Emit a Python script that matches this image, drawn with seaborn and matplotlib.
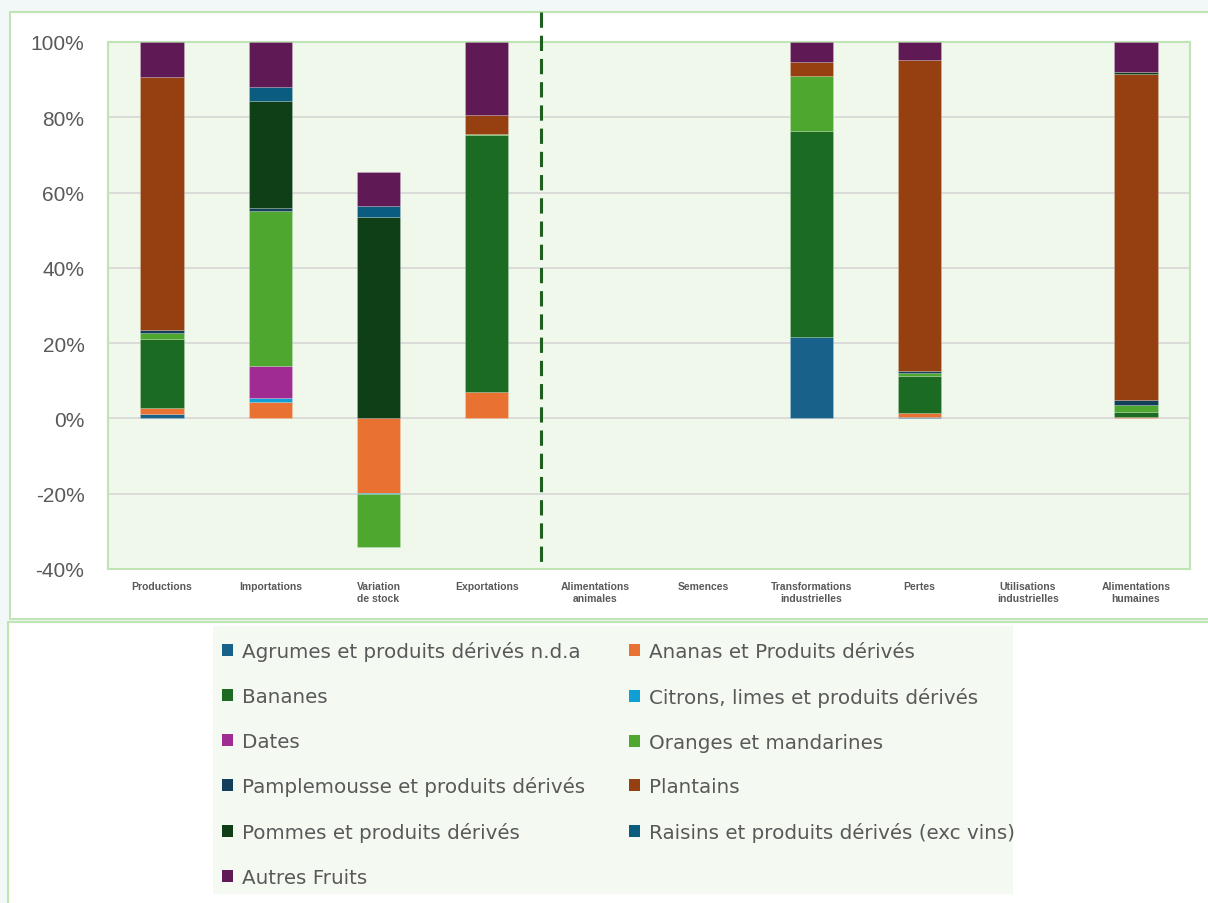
import numpy as np
import seaborn as sns
import matplotlib.pyplot as plt
from matplotlib.patches import Patch, Rectangle
from matplotlib.ticker import PercentFormatter

categories = ["Productions", "Importations", "Variation\nde stock", "Exportations",
              "Alimentations\nanimales", "Semences", "Transformations\nindustrielles",
              "Pertes", "Utilisations\nindustrielles", "Alimentations\nhumaines"]

series = ["Agrumes et produits dérivés n.d.a", "Ananas et Produits dérivés", "Bananes",
          "Citrons, limes et produits dérivés", "Dates", "Oranges et mandarines",
          "Pamplemousse et produits dérivés", "Plantains", "Pommes et produits dérivés",
          "Raisins et produits dérivés (exc vins)", "Autres Fruits"]

colors = ["#17618A", "#E97132", "#1B6B23", "#0F9ED5", "#A02B93", "#4EA72E",
          "#123F5A", "#963F10", "#0F3F17", "#0B5D80", "#5F1A56"]

# shares in %
agrumes      = [1.1, 0.0, 0.0, 0.0, 0, 0, 21.7, 0.5, 0, 0.0]
ananas       = [1.7, 4.3, -19.7, 6.9, 0, 0, 0.0, 0.9, 0, 0.5]
bananes      = [18.2, 0.0, 0.0, 68.4, 0, 0, 54.6, 9.8, 0, 1.3]
citrons      = [0.0, 1.2, -0.4, 0.0, 0, 0, 0.0, 0.0, 0, 0.0]
dates        = [0.0, 8.3, 0.0, 0.0, 0, 0, 0.0, 0.0, 0, 0.0]
oranges      = [1.6, 41.2, -14.1, 0.3, 0, 0, 14.6, 0.9, 0, 1.8]
pamplemousse = [0.8, 0.9, 0.0, 0.0, 0, 0, 0.0, 0.5, 0, 1.2]
plantains    = [67.2, 0.0, 0.0, 4.9, 0, 0, 3.7, 82.6, 0, 86.8]
pommes       = [0.0, 28.4, 53.5, 0.0, 0, 0, 0.0, 0.0, 0, 0.3]
raisins      = [0.0, 3.8, 3.0, 0.0, 0, 0, 0.0, 0.0, 0, 0.1]
autres       = [9.4, 11.9, 9.0, 19.5, 0, 0, 5.4, 4.8, 0, 8.0]

values = [agrumes, ananas, bananes, citrons, dates, oranges,
          pamplemousse, plantains, pommes, raisins, autres]

sns.set_style("white")
plt.rcParams["axes.unicode_minus"] = False
plt.rcParams["font.family"] = ["Liberation Sans", "DejaVu Sans"]

W, H = 1208, 904
fig = plt.figure(figsize=(W / 100, H / 100), dpi=100, facecolor="#F2F7F8")
green = "#C0E5B4"

# chart box and legend box
fig.add_artist(Rectangle((10 / W, 1 - 620 / H), 1.0, (620 - 13) / H, transform=fig.transFigure,
                         facecolor="white", edgecolor=green, lw=1.5, zorder=0))
fig.add_artist(Rectangle((8 / W, -0.1), 1.0, 0.1 + (H - 623) / H, transform=fig.transFigure,
                         facecolor="white", edgecolor=green, lw=1.5, zorder=0))
fig.add_artist(Rectangle((213 / W, 1 - 895 / H), 800 / W, 268 / H, transform=fig.transFigure,
                         facecolor="#F4F9F2", edgecolor="none", zorder=0))

ax = fig.add_axes([108 / W, 1 - 570 / H, (1190 - 108) / W, (570 - 43) / H])
ax.set_facecolor("#F0F7EB")

pos_base = np.zeros(len(categories))
neg_base = np.zeros(len(categories))
for name, vals, col in zip(series, values, colors):
    v = np.array(vals, dtype=float) / 100
    bottom = np.where(v >= 0, pos_base, neg_base)
    sns.barplot(x=categories, y=v, bottom=bottom, color=col, width=0.4, saturation=1,
                errorbar=None, edgecolor=(1, 1, 1, 0.22), linewidth=0.6, ax=ax, zorder=3)
    pos_base += np.clip(v, 0, None)
    neg_base += np.clip(v, None, 0)

# hide empty segments
for p in ax.patches:
    if abs(p.get_height()) < 1e-9:
        p.set_visible(False)

ax.set_xlim(-0.5, len(categories) - 0.5)
ax.set_ylim(-0.4, 1.0)
ax.set_yticks([-0.4, -0.2, 0, 0.2, 0.4, 0.6, 0.8, 1.0])
ax.yaxis.set_major_formatter(PercentFormatter(1.0, decimals=0))
ax.yaxis.grid(True, color="#D9D9D9", lw=1.3)
ax.set_axisbelow(True)
ax.set_xlabel("")
ax.set_ylabel("")
ax.tick_params(axis="y", length=0, pad=17, labelsize=15, labelcolor="#595959")
ax.tick_params(axis="x", length=0, pad=9, labelsize=7.5, labelcolor="#595959")
for lab in ax.get_xticklabels():
    lab.set_fontweight("bold")
for sp in ax.spines.values():
    sp.set_color(green)
    sp.set_linewidth(1.5)

# dashed separator between flows and uses (drawn from the top down)
ax.plot([3.5, 3.5], [(570 - 13) / (570 - 43), 0.0], transform=ax.get_xaxis_transform(),
        color="#1E5E1E", lw=2.2, ls=(0, (5, 2.6)), clip_on=False, zorder=4)

handles = [Patch(facecolor=c, edgecolor="none") for c in colors]
order = [0, 2, 4, 6, 8, 10, 1, 3, 5, 7, 9]
leg = fig.legend([handles[i] for i in order], [series[i] for i in order],
                 loc="upper left", bbox_to_anchor=(222 / W, 1 - 642 / H), ncol=2,
                 frameon=False, borderpad=0, borderaxespad=0,
                 prop={"family": "DejaVu Sans", "size": 14.3},
                 handlelength=0.55, handleheight=0.55, handletextpad=0.45,
                 labelspacing=1.3, columnspacing=2.2)
for t in leg.get_texts():
    t.set_color("#595959")

fig.savefig("out.png", dpi=100, facecolor=fig.get_facecolor())
